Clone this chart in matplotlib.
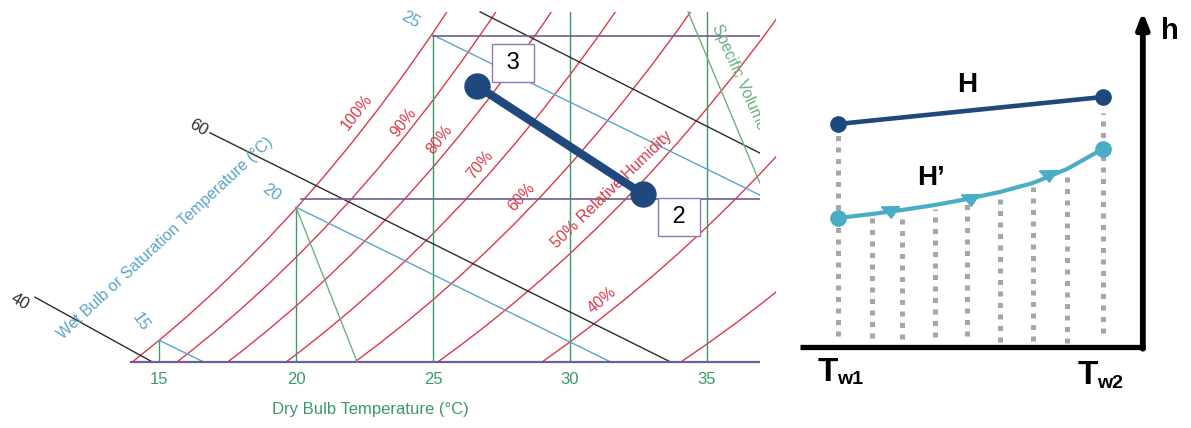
import numpy as np
import matplotlib.pyplot as plt
from matplotlib.patches import Rectangle

plt.rcParams['font.family'] = ['Liberation Sans', 'DejaVu Sans']

# ---- psychrometric chart data (left) ----
# saturation vapour pressure of water (kPa) by dry bulb temperature (C)
sat_temp = [8, 9, 10, 11, 12, 13, 14, 15, 16, 17, 18, 19, 20, 21, 22, 23,
            24, 25, 26, 27, 28, 29, 30, 31, 32, 33, 34, 35, 36, 37, 38]
sat_pres = [1.0730, 1.1482, 1.2282, 1.3130, 1.4028, 1.4981, 1.5990, 1.7058,
            1.8188, 1.9384, 2.0647, 2.1983, 2.3393, 2.4882, 2.6453, 2.8111,
            2.9858, 3.1699, 3.3639, 3.5681, 3.7831, 4.0092, 4.2470, 4.4969,
            4.7596, 5.0354, 5.3251, 5.6290, 5.9479, 6.2823, 6.6328]
rh_levels = [100, 90, 80, 70, 60, 50, 40, 30]
p_atm = 101.325

# dry bulb grid (vertical green lines): temperature, top humidity ratio (g/kg)
db_temp = [15, 20, 25, 30, 35]
db_top = [10.66, 14.74, 20.02, 20.73, 20.73]

# wet bulb lines (blue): start / end points
wb_t0 = [15, 20, 25]
wb_w0 = [10.66, 14.74, 20.02]
wb_t1 = [16.61, 31.46, 36.93]
wb_w1 = [10.0, 10.0, 15.11]

# enthalpy lines (black) 40 / 60 / 80 kJ/kg
en_t0 = [10.47, 16.86, 26.72]
en_w0 = [11.98, 17.02, 20.73]
en_t1 = [14.74, 33.65, 36.93]
en_w1 = [10.0, 10.0, 16.40]

# constant humidity ratio lines (purple)
hr_w = [15.0, 20.0]
hr_t0 = [20.2, 25.0]

# specific volume lines (green, slanted)
sv_t0 = [20.0, 34.31]
sv_w0 = [14.74, 20.73]
sv_t1 = [22.23, 36.93]
sv_w1 = [10.0, 15.48]

# process 3 -> 2
proc_t = [26.61, 32.66]
proc_w = [18.46, 15.14]
proc_lbl = ['3', '2']

# ---- schematic data (right) ----
pos = [0, 1.03, 1.93, 2.93, 3.90, 4.89, 5.89, 6.92, 8.0]
h_prime = [12.87, 13.27, 13.67, 14.17, 14.77, 15.47, 16.37, 17.77, 19.77]
dot_bottom = [1.07, 0.87, 0.77, 0.97, 1.07, 0.47, 0.57, 0.37, 1.37]
H_pos = [0, 8.0]
H_val = [22.27, 24.97]
arrow_pos = [1.57, 3.99, 6.34]
arrow_h = [13.6, 14.8, 17.2]

red = '#d93a49'
green = '#3c9a66'
blue = '#5aa5c8'
purple = '#6b5f96'
navy = '#1f497d'
light = '#4bacc6'

fig = plt.figure(figsize=(11.91, 4.28), dpi=100)

# ---------------- left: psychrometric chart ----------------
ax = fig.add_axes([0, 0, 760 / 1191, 1])
ax.set_xlim(9.197, 36.934)
ax.set_ylim(7.966, 21.095)
ax.axis('off')
clip = Rectangle((9.0, 10.0), 28.5, 10.73, transform=ax.transData)

ps = np.array(sat_pres)
for rh in rh_levels:
    phi = rh / 100
    w = 622 * phi * ps / (p_atm - phi * ps)
    ln, = ax.plot(sat_temp, w, color=red, lw=1.0)
    ln.set_clip_path(clip)

for t, top in zip(db_temp, db_top):
    ln, = ax.plot([t, t], [10.0, top], color=green, lw=1.0)
    ln.set_clip_path(clip)

for a, b, c, d in zip(wb_t0, wb_w0, wb_t1, wb_w1):
    ax.plot([a, c], [b, d], color=blue, lw=1.0)

for a, b, c, d in zip(en_t0, en_w0, en_t1, en_w1):
    ax.plot([a, c], [b, d], color='#2b2b2b', lw=1.0)

for w, t0 in zip(hr_w, hr_t0):
    ax.plot([t0, 37], [w, w], color=purple, lw=1.2)
ax.plot([13.97, 37], [10.0, 10.0], color=purple, lw=1.6)

for a, b, c, d in zip(sv_t0, sv_w0, sv_t1, sv_w1):
    ax.plot([a, c], [b, d], color='#6db07f', lw=1.0)

# axis text
for t in db_temp:
    ax.text(t, 9.45, str(t), color=green, fontsize=12, ha='center', va='center')
ax.text(22.7, 8.52, 'Dry Bulb Temperature (°C)', color=green, fontsize=12,
        ha='center', va='center')
ax.text(15.22, 13.79, 'Wet Bulb or Saturation Temperature (°C)', color=blue,
        fontsize=11.5, ha='center', va='center', rotation=43)
for txt, t, w, r in [('15', 14.34, 11.21, -55), ('20', 19.09, 15.17, -35),
                     ('25', 24.16, 20.48, -30)]:
    ax.text(t, w, txt, color=blue, fontsize=12, ha='center', va='center', rotation=r)
for txt, t, w in [('40', 9.93, 11.83), ('60', 16.42, 17.19)]:
    ax.text(t, w, txt, color='#2b2b2b', fontsize=12, ha='center', va='center',
            rotation=-30)
for txt, t, w, r in [('100%', 22.23, 17.66, 52), ('90%', 23.94, 17.35, 52),
                     ('80%', 25.26, 16.80, 52), ('70%', 26.72, 16.03, 50),
                     ('60%', 28.25, 15.05, 48),
                     ('50% Relative Humidity', 31.53, 15.27, 44),
                     ('40%', 31.17, 11.89, 40)]:
    ax.text(t, w, txt, color=red, fontsize=11.5, ha='center', va='center', rotation=r)
ax.text(36.18, 18.74, 'Specific Volume', color='#6db07f', fontsize=11.5,
        ha='center', va='center', rotation=-66, clip_on=True)

# process line
ax.plot(proc_t, proc_w, color=navy, lw=6, marker='o', ms=18, zorder=5)
for t, w, lbl, dy in zip(proc_t, proc_w, proc_lbl, [16.5, -16.5]):
    ax.annotate(' ' + lbl + ' ', (t, w), xytext=(26, dy), textcoords='offset points',
                ha='center', va='center', fontsize=17, zorder=6,
                bbox=dict(boxstyle='square,pad=0.33', fc='white', ec='#8a79c0', lw=1))

# ---------------- right: schematic ----------------
bx = fig.add_axes([780 / 1191, 0, 411 / 1191, 1])
bx.set_xlim(-1.752, 10.665)
bx.set_ylim(-8.13, 34.67)
bx.axis('off')

for i, (p, hp, bot) in enumerate(zip(pos, h_prime, dot_bottom)):
    if i == 0:
        top = H_val[0] - 0.6
    elif i == len(pos) - 1:
        top = H_val[1] - 1.6
    else:
        top = hp - 0.4
    bx.plot([p, p], [bot, top], color='#a6a6a6', lw=3.6, ls=(0, (1, 1.3)),
            solid_capstyle='butt', dash_capstyle='butt', zorder=1)

bx.plot(H_pos, H_val, color=navy, lw=3.3, marker='o', ms=11, zorder=3)
bx.plot(pos, h_prime, color=light, lw=3.0, zorder=3)
bx.plot([pos[0], pos[-1]], [h_prime[0], h_prime[-1]], ls='none', marker='o',
        ms=11, color=light, zorder=4)
tri = [(-1, 0.5), (1, 0.55), (0.1, -0.75), (-1, 0.5)]
bx.plot(arrow_pos, arrow_h, ls='none', marker=tri, ms=13, color=light, zorder=4)

# axes of the schematic
bx.plot([-1.15, 9.27], [0, 0], color='black', lw=3.8, solid_capstyle='butt')
bx.annotate('', xy=(9.21, 33.5), xytext=(9.21, -0.2),
            arrowprops=dict(arrowstyle='-|>,head_width=0.35,head_length=0.9',
                            color='black', lw=4.2, shrinkA=0, shrinkB=0))
bx.text(10.03, 31.6, 'h', fontsize=21, fontweight='bold', ha='center', va='center')
bx.text(3.9, 26.17, 'H', fontsize=20, fontweight='bold', ha='center', va='center')
bx.text(2.81, 16.87, 'H\u2019', fontsize=20, fontweight='bold', ha='center', va='center')
bx.text(-0.63, -3.43, 'T', fontsize=24, fontweight='bold', ha='left', va='baseline')
bx.text(-0.03, -3.73, 'w1', fontsize=14, fontweight='bold', ha='left', va='baseline')
bx.text(7.25, -3.73, 'T', fontsize=24, fontweight='bold', ha='left', va='baseline')
bx.text(7.82, -4.13, 'w2', fontsize=14, fontweight='bold', ha='left', va='baseline')

fig.savefig('out.png', dpi=100, facecolor='white')
